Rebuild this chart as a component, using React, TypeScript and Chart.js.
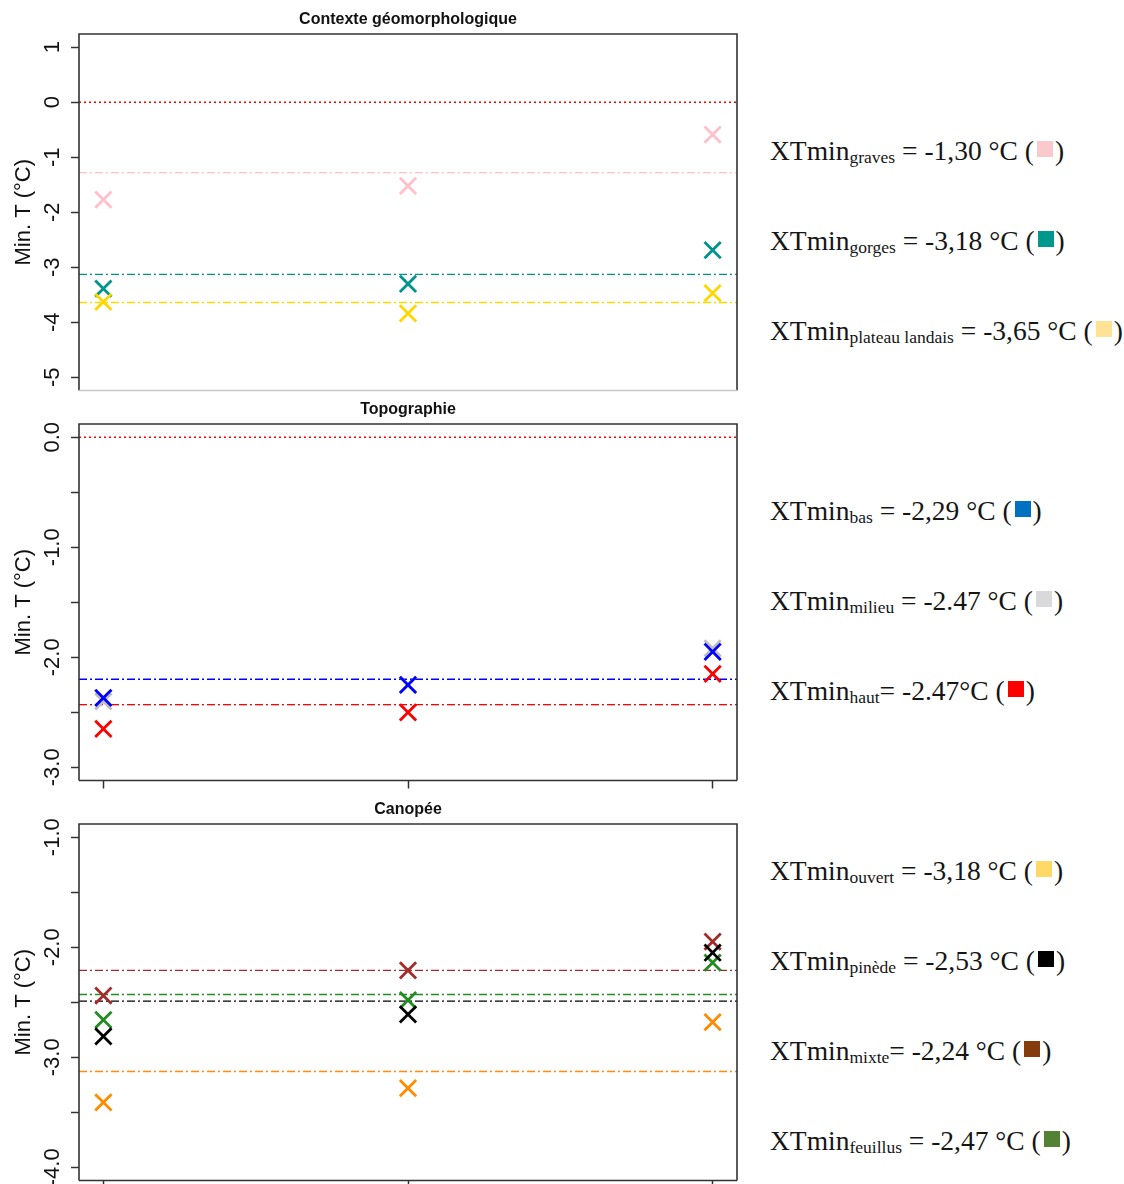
import React, { useEffect, useRef } from "react";
import { Chart, registerables } from "chart.js";

Chart.register(...registerables);

// ---------- shared ----------
const SITE_X = [1, 2, 3];
const X_RANGE = [0.92, 3.08];
const ZERO_REF = 0;
const Y_TITLE = "Min. T (°C)";

// ---------- panel 1 : Contexte géomorphologique ----------
const GEO_TITLE = "Contexte géomorphologique";
const GEO_Y_RANGE = [-5.24, 1.24];
const GEO_Y_TICKS = [-5, -4, -3, -2, -1, 0, 1];
const GEO_Y_LABELS = ["-5", "-4", "-3", "-2", "-1", "0", "1"];
const GEO_GRAVES = [-1.77, -1.52, -0.59];
const GEO_GORGES = [-3.39, -3.3, -2.69];
const GEO_PLATEAU = [-3.63, -3.84, -3.47];
const GEO_MEANS = [-1.28, -3.13, -3.64]; // graves, gorges, plateau landais

// ---------- panel 2 : Topographie ----------
const TOPO_TITLE = "Topographie";
const TOPO_Y_RANGE = [-3.12, 0.12];
const TOPO_Y_TICKS = [-3, -2.5, -2, -1.5, -1, -0.5, 0];
const TOPO_Y_LABELS = ["-3.0", "", "-2.0", "", "-1.0", "", "0.0"];
const TOPO_BAS = [-2.37, -2.25, -1.95];
const TOPO_MILIEU = [-2.4, -2.25, -1.92];
const TOPO_HAUT = [-2.65, -2.5, -2.15];
const TOPO_MEANS = [-2.2, -2.43, -2.43]; // bas, milieu, haut

// ---------- panel 3 : Canopée ----------
const CANO_TITLE = "Canopée";
const CANO_Y_RANGE = [-4.12, -0.88];
const CANO_Y_TICKS = [-4, -3.5, -3, -2.5, -2, -1.5, -1];
const CANO_Y_LABELS = ["-4.0", "", "-3.0", "", "-2.0", "", "-1.0"];
const CANO_OUVERT = [-3.41, -3.28, -2.68];
const CANO_PINEDE = [-2.81, -2.61, -2.05];
const CANO_MIXTE = [-2.44, -2.21, -1.95];
const CANO_FEUILLUS = [-2.66, -2.48, -2.14];
const CANO_MEANS = [-3.13, -2.49, -2.21, -2.43]; // ouvert, pinède, mixte, feuillus

// ---------- right-hand annotations ----------
const GEO_SUBS = ["graves", "gorges", "plateau landais"];
const GEO_TEXTS = [" = -1,30 °C (", " = -3,18 °C (", " = -3,65 °C ("];
const GEO_SWATCHES = ["#F9C9CC", "#00978D", "#FFE294"];

const TOPO_SUBS = ["bas", "milieu", "haut"];
const TOPO_TEXTS = [" = -2,29 °C (", " = -2.47 °C (", "= -2.47°C ("];
const TOPO_SWATCHES = ["#0070C0", "#D9D9D9", "#FF0000"];

const CANO_SUBS = ["ouvert", "pinède", "mixte", "feuillus"];
const CANO_TEXTS = [" = -3,18 °C (", " = -2,53 °C (", "= -2,24 °C (", " = -2,47 °C ("];
const CANO_SWATCHES = ["#FFD966", "#000000", "#843C0C", "#548235"];

const FONT_SANS = '"Liberation Sans", Arial, Helvetica, sans-serif';
const FONT_SERIF = '"Liberation Serif", "Times New Roman", serif';

type Series = { values: number[]; mean: number; color: string; z: number };

const boxPlugin = {
  id: "rbox",
  afterDatasetsDraw(chart: any, _a: any, opts: any) {
    const { ctx, chartArea: a } = chart;
    ctx.save();
    ctx.lineWidth = 1.6;
    ctx.strokeStyle = "#333";
    ctx.beginPath();
    ctx.moveTo(a.left, a.bottom);
    ctx.lineTo(a.left, a.top);
    ctx.lineTo(a.right, a.top);
    ctx.lineTo(a.right, a.bottom);
    ctx.stroke();
    ctx.strokeStyle = opts.bottomColor || "#333";
    ctx.beginPath();
    ctx.moveTo(a.left, a.bottom);
    ctx.lineTo(a.right, a.bottom);
    ctx.stroke();
    ctx.restore();
  },
};

const titlePlugin = {
  id: "panelTitle",
  afterDraw(chart: any, _a: any, opts: any) {
    const { ctx, chartArea: a } = chart;
    ctx.save();
    ctx.font = `bold 16px ${FONT_SANS}`;
    ctx.fillStyle = "#111";
    ctx.textAlign = "center";
    ctx.textBaseline = "middle";
    ctx.fillText(opts.text, (a.left + a.right) / 2, a.top - 14);
    ctx.restore();
  },
};

type PanelProps = {
  top: number;
  title: string;
  yRange: number[];
  yTicks: number[];
  yLabels: string[];
  series: Series[];
  zero: boolean;
  xTicks: boolean;
  tickPadding: number;
  bottomColor: string;
};

const CANVAS_W = 760;
const CANVAS_H = 420;

function Panel(p: PanelProps) {
  const ref = useRef<HTMLCanvasElement>(null);
  useEffect(() => {
    const datasets: any[] = [];
    p.series.forEach((s) => {
      datasets.push({
        data: SITE_X.map((x, i) => ({ x, y: s.values[i] })),
        showLine: false,
        pointStyle: "crossRot",
        pointRadius: 11.5,
        pointBorderWidth: 2.8,
        borderColor: s.color,
        pointBorderColor: s.color,
        backgroundColor: s.color,
        order: 100 - s.z,
      });
      datasets.push({
        data: X_RANGE.map((x) => ({ x, y: s.mean })),
        showLine: true,
        borderColor: s.color,
        borderWidth: 1.4,
        borderDash: [8, 3, 2, 3],
        pointRadius: 0,
        fill: false,
        order: 200 - s.z,
      });
    });
    if (p.zero) {
      datasets.push({
        data: X_RANGE.map((x) => ({ x, y: ZERO_REF })),
        showLine: true,
        borderColor: "#FF0000",
        borderWidth: 1.4,
        borderDash: [2, 3],
        pointRadius: 0,
        fill: false,
        order: 300,
      });
    }
    const xAxisH = CANVAS_H - 34 - 356.5;
    const chart = new Chart(ref.current as HTMLCanvasElement, {
      type: "scatter",
      data: { datasets },
      plugins: [boxPlugin, titlePlugin],
      options: {
        responsive: false,
        animation: false,
        events: [],
        layout: { padding: { top: 34, right: CANVAS_W - 737, left: 0, bottom: 0 } },
        plugins: {
          legend: { display: false },
          tooltip: { enabled: false },
          title: { display: false },
          rbox: { bottomColor: p.bottomColor },
          panelTitle: { text: p.title },
        } as any,
        scales: {
          x: {
            type: "linear",
            min: X_RANGE[0],
            max: X_RANGE[1],
            afterBuildTicks: (s: any) => {
              s.ticks = SITE_X.map((v) => ({ value: v }));
            },
            afterFit: (s: any) => {
              s.height = xAxisH;
              s.paddingLeft = 0;
              s.paddingRight = 0;
            },
            ticks: { display: false },
            grid: {
              drawOnChartArea: false,
              drawTicks: p.xTicks,
              tickLength: 8,
              tickColor: "#333",
              tickWidth: 1.5,
            },
            border: { display: false },
          },
          y: {
            type: "linear",
            min: p.yRange[0],
            max: p.yRange[1],
            afterBuildTicks: (s: any) => {
              s.ticks = p.yTicks.map((v) => ({ value: v }));
            },
            afterFit: (s: any) => {
              s.width = 79;
              s.paddingTop = 0;
              s.paddingBottom = 0;
            },
            ticks: {
              autoSkip: false,
              minRotation: 90,
              maxRotation: 90,
              crossAlign: "center",
              padding: p.tickPadding,
              color: "#111",
              font: { family: FONT_SANS, size: 22 },
              callback: (v: any) => {
                const i = p.yTicks.indexOf(Number(v));
                return i >= 0 ? p.yLabels[i] : "";
              },
            },
            grid: {
              drawOnChartArea: false,
              drawTicks: true,
              tickLength: 8,
              tickColor: "#333",
              tickWidth: 1.5,
            },
            border: { display: false },
            title: {
              display: true,
              text: Y_TITLE,
              color: "#111",
              font: { family: FONT_SANS, size: 22 },
              padding: { top: 11, bottom: 0 },
            },
          },
        } as any,
      },
    });
    return () => chart.destroy();
  }, []);
  return (
    <div style={{ position: "absolute", left: 0, top: p.top, width: CANVAS_W, height: CANVAS_H }}>
      <canvas ref={ref} width={CANVAS_W} height={CANVAS_H} style={{ display: "block" }} />
    </div>
  );
}

function Annot(props: { baseline: number; sub: string; text: string; swatch: string }) {
  return (
    <div
      style={{
        position: "absolute",
        left: 770,
        top: props.baseline - 23,
        fontFamily: FONT_SERIF,
        fontSize: 27.5,
        lineHeight: "27px",
        color: "#151515",
        whiteSpace: "nowrap",
      }}
    >
      XTmin<span style={{ fontSize: 17.5, verticalAlign: -3 }}>{props.sub}</span>{props.text}<span style={{ display: "inline-block", width: 16, height: 16, background: props.swatch, verticalAlign: 3, margin: "0 2px 0 3px" }} />)
    </div>
  );
}

const GEO_BASELINES = [160, 250, 340];
const TOPO_BASELINES = [520, 610, 700];
const CANO_BASELINES = [880, 970, 1060, 1150];

export default function App() {
  const geoSeries: Series[] = [
    { values: GEO_GRAVES, mean: GEO_MEANS[0], color: "#FFC0CB", z: 1 },
    { values: GEO_GORGES, mean: GEO_MEANS[1], color: "#00958C", z: 2 },
    { values: GEO_PLATEAU, mean: GEO_MEANS[2], color: "#FFD700", z: 3 },
  ];
  const topoSeries: Series[] = [
    { values: TOPO_MILIEU, mean: TOPO_MEANS[1], color: "#BEBEBE", z: 1 },
    { values: TOPO_HAUT, mean: TOPO_MEANS[2], color: "#FF0000", z: 2 },
    { values: TOPO_BAS, mean: TOPO_MEANS[0], color: "#0000FF", z: 3 },
  ];
  const canoSeries: Series[] = [
    { values: CANO_OUVERT, mean: CANO_MEANS[0], color: "#FF8C00", z: 1 },
    { values: CANO_MIXTE, mean: CANO_MEANS[2], color: "#A52A2A", z: 2 },
    { values: CANO_FEUILLUS, mean: CANO_MEANS[3], color: "#228B22", z: 3 },
    { values: CANO_PINEDE, mean: CANO_MEANS[1], color: "#000000", z: 4 },
  ];
  return (
    <div
      style={{
        position: "absolute",
        left: 0,
        top: 0,
        width: 1124,
        height: 1184,
        overflow: "hidden",
        background: "#fff",
      }}
    >
      <Panel top={0} title={GEO_TITLE} yRange={GEO_Y_RANGE} yTicks={GEO_Y_TICKS} yLabels={GEO_Y_LABELS}
        series={geoSeries} zero={true} xTicks={false} tickPadding={8} bottomColor="#C8C8C8" />
      <Panel top={390} title={TOPO_TITLE} yRange={TOPO_Y_RANGE} yTicks={TOPO_Y_TICKS} yLabels={TOPO_Y_LABELS}
        series={topoSeries} zero={true} xTicks={true} tickPadding={-1} bottomColor="#333" />
      <Panel top={790} title={CANO_TITLE} yRange={CANO_Y_RANGE} yTicks={CANO_Y_TICKS} yLabels={CANO_Y_LABELS}
        series={canoSeries} zero={false} xTicks={true} tickPadding={-1} bottomColor="#333" />
      {GEO_SUBS.map((s, i) => (
        <Annot key={"g" + i} baseline={GEO_BASELINES[i]} sub={s} text={GEO_TEXTS[i]} swatch={GEO_SWATCHES[i]} />
      ))}
      {TOPO_SUBS.map((s, i) => (
        <Annot key={"t" + i} baseline={TOPO_BASELINES[i]} sub={s} text={TOPO_TEXTS[i]} swatch={TOPO_SWATCHES[i]} />
      ))}
      {CANO_SUBS.map((s, i) => (
        <Annot key={"c" + i} baseline={CANO_BASELINES[i]} sub={s} text={CANO_TEXTS[i]} swatch={CANO_SWATCHES[i]} />
      ))}
    </div>
  );
}
